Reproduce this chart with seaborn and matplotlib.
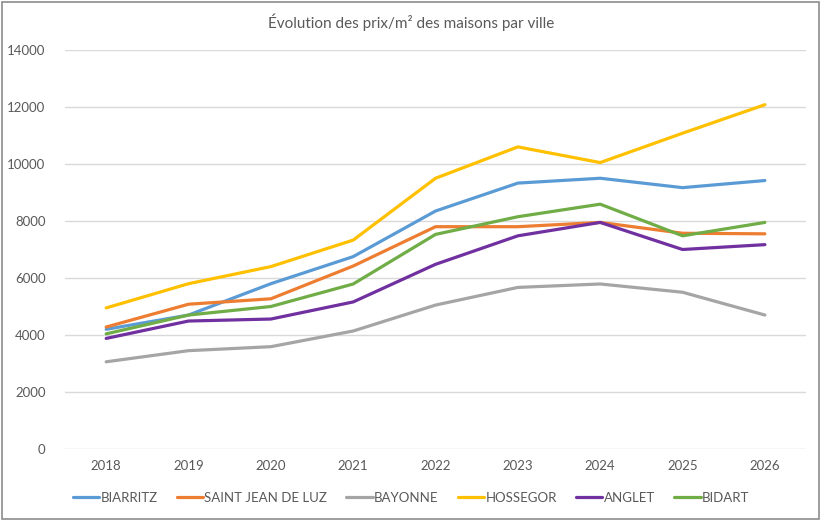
import matplotlib
matplotlib.use("Agg")
import matplotlib.pyplot as plt
import seaborn as sns
import pandas as pd
from matplotlib.patches import Rectangle
from matplotlib.lines import Line2D

years = ["2018", "2019", "2020", "2021", "2022", "2023", "2024", "2025", "2026"]
biarritz = [4200, 4700, 5800, 6750, 8350, 9330, 9500, 9170, 9420]
saint_jean_de_luz = [4280, 5080, 5270, 6420, 7800, 7800, 7950, 7570, 7550]
bayonne = [3060, 3450, 3590, 4140, 5050, 5670, 5790, 5500, 4700]
hossegor = [4950, 5800, 6400, 7330, 9500, 10600, 10050, 11080, 12080]
anglet = [3880, 4490, 4560, 5160, 6480, 7480, 7950, 7000, 7170]
bidart = [4040, 4700, 5000, 5790, 7530, 8150, 8590, 7480, 7950]

cities = ["BIARRITZ", "SAINT JEAN DE LUZ", "BAYONNE", "HOSSEGOR", "ANGLET", "BIDART"]
series = [biarritz, saint_jean_de_luz, bayonne, hossegor, anglet, bidart]
colors = ["#5B9BD5", "#ED7D31", "#A5A5A5", "#FFC000", "#7030A0", "#70AD47"]
yticks = [0, 2000, 4000, 6000, 8000, 10000, 12000, 14000]

rows = []
for c, vals in zip(cities, series):
    for i, (y, v) in enumerate(zip(years, vals)):
        rows.append({"idx": i, "year": y, "city": c, "value": v})
df = pd.DataFrame(rows)

sns.set_style("white")
plt.rcParams["font.family"] = ["Lato", "DejaVu Sans"]

fig = plt.figure(figsize=(8.22, 5.23), dpi=100)
ax = fig.add_axes([0.0791, 0.1415, 0.9015, 0.7629])

palette = dict(zip(cities, colors))
sns.lineplot(data=df, x="idx", y="value", hue="city", hue_order=cities,
             palette=palette, linewidth=2.3, ax=ax, legend=False, sort=False)

ax.set_xlim(-0.5, len(years) - 0.5)
ax.set_ylim(0, 14000)
ax.set_xticks(range(len(years)))
ax.set_xticklabels(years)
ax.set_yticks(yticks)
ax.set_yticklabels([str(t) for t in yticks])
ax.set_xlabel("")
ax.set_ylabel("")
ax.grid(axis="y", color="#D9D9D9", linewidth=1.0)
ax.grid(axis="x", visible=False)
ax.set_axisbelow(True)
for s in ax.spines.values():
    s.set_visible(False)
ax.tick_params(axis="both", length=0, labelsize=9.5, labelcolor="#595959")
ax.tick_params(axis="y", pad=14)
ax.tick_params(axis="x", pad=8)

fig.text(0.5, 0.958, "Évolution des prix/m² des maisons par ville", ha="center", va="center",
         fontsize=11, color="#595959")

handles = [Line2D([0], [0], color=c, linewidth=2.3) for c in colors]
fig.legend(handles, cities, loc="center", bbox_to_anchor=(0.5, 0.048), ncol=6, frameon=False,
           fontsize=9.5, handlelength=2.0, handletextpad=0.1, columnspacing=1.45,
           labelcolor="#595959")

fig.patches.append(Rectangle((0.003, 0.008), 0.993, 0.988, transform=fig.transFigure,
                             fill=False, edgecolor="#8C8C8C", linewidth=1.2))

fig.savefig("out.png", dpi=100)
